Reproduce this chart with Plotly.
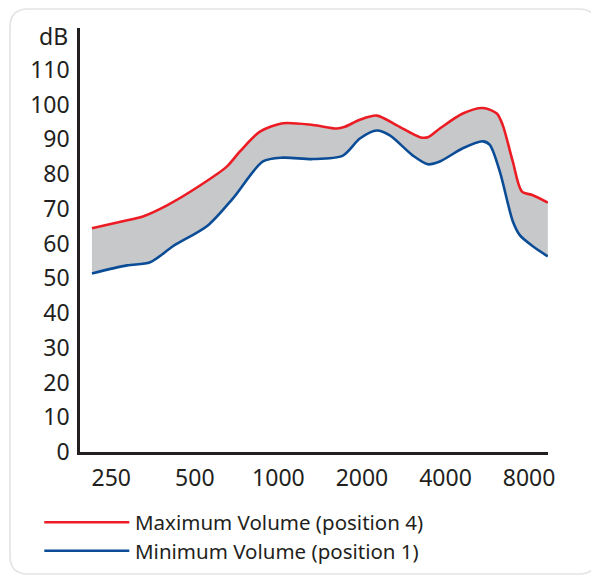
import math
import plotly.graph_objects as go

# ---- data ----
max_freq = [213, 275, 325, 397, 522, 653, 727, 858, 1038, 1332, 1625, 1736, 1966, 2264,
            2672, 3233, 3456, 3816, 4617, 5449, 6122, 6434, 6989, 7532, 8252, 9345]
max_db = [64.4, 66.4, 67.8, 71.0, 76.7, 82.2, 86.5, 92.2, 94.6, 94.1, 93.1, 93.6, 95.6, 96.8,
          94.0, 90.6, 90.6, 93.1, 97.4, 99.0, 97.4, 94.0, 83.6, 75.0, 73.9, 71.8]

min_freq = [213, 285, 345, 417, 557, 686, 880, 1038, 1332, 1708, 1966, 2264, 2521, 3051,
            3456, 3816, 4617, 5449, 5776, 6277, 6989, 7407, 8252, 9345]
min_db = [51.4, 53.7, 54.6, 59.2, 65.2, 73.0, 83.6, 84.7, 84.3, 85.3, 90.2, 92.5, 91.1, 85.3,
          82.8, 83.6, 87.4, 89.4, 88.4, 80.7, 66.4, 62.4, 59.2, 56.3]

x_ticks = [250, 500, 1000, 2000, 4000, 8000]
x_tick_labels = ["250", "500", "1000", "2000", "4000", "8000"]
y_ticks = [0, 10, 20, 30, 40, 50, 60, 70, 80, 90, 100, 110]
y_unit = "dB"

series_names = ["Maximum Volume (position 4)", "Minimum Volume (position 1)"]
series_colors = ["#ec1c24", "#0b4c97"]
band_color = "#c7c8ca"
ink = "#231f20"
FONT = "Noto Sans"

fig = go.Figure()
fig.add_trace(go.Scatter(x=max_freq, y=max_db, mode="lines", name=series_names[0],
                         line=dict(color=series_colors[0], width=2.6, shape="spline", smoothing=0.8),
                         showlegend=False, hoverinfo="skip"))
fig.add_trace(go.Scatter(x=min_freq, y=min_db, mode="lines", name=series_names[1],
                         line=dict(color=series_colors[1], width=2.6, shape="spline", smoothing=0.8),
                         fill="tonexty", fillcolor=band_color,
                         showlegend=False, hoverinfo="skip"))

# page body has an 8px margin, so the figure is laid out 8px in from the window edge
OFF = 8
W, H = 599 - OFF, 576 - OFF
ML, MR, MT, MB = 80 - OFF, 51, 28 - OFF, 124
pw, ph = W - ML - MR, H - MT - MB

def px(x):  # window pixel -> paper
    return (x - OFF - ML) / pw

def py(y):
    return (H - MB - (y - OFF)) / ph

# rounded outer frame
x0, x1 = px(10), px(597)
yt, yb = py(OFF + 1), py(574)
rx, ry = 18 / pw, 18 / ph
path = (f"M {x0+rx},{yt} L {x1-rx},{yt} Q {x1},{yt} {x1},{yt-ry} "
        f"L {x1},{yb+ry} Q {x1},{yb} {x1-rx},{yb} L {x0+rx},{yb} "
        f"Q {x0},{yb} {x0},{yb+ry} L {x0},{yt-ry} Q {x0},{yt} {x0+rx},{yt} Z")
shapes = [dict(type="path", path=path, xref="paper", yref="paper",
               line=dict(color="#e3e3e3", width=1.6), layer="below")]

annotations = [dict(text=y_unit, x=0, y=119.8, xref="paper", yref="y", xanchor="right",
                    yanchor="middle", xshift=-10, showarrow=False,
                    font=dict(family=FONT, size=23, color=ink))]

leg_y = [522.3, 550.7]
for name, col, ly in zip(series_names, series_colors, leg_y):
    shapes.append(dict(type="line", xref="paper", yref="paper", x0=px(44.3), x1=px(129.3),
                       y0=py(ly), y1=py(ly), line=dict(color=col, width=2.6)))
    annotations.append(dict(text=name, x=px(133), y=py(ly), xref="paper", yref="paper",
                            xanchor="left", yanchor="middle", showarrow=False,
                            font=dict(family=FONT, size=20.5, color=ink)))

fig.update_layout(
    width=W, height=H,
    margin=dict(l=ML, r=MR, t=MT, b=MB, pad=0),
    paper_bgcolor="white", plot_bgcolor="white",
    showlegend=False,
    shapes=shapes, annotations=annotations,
    font=dict(family=FONT, color=ink),
    xaxis=dict(type="log", range=[math.log10(192.9), math.log10(9360)],
               tickvals=x_ticks, ticktext=x_tick_labels,
               showgrid=False, zeroline=False, showline=True, linecolor=ink, linewidth=3,
               ticks="", ticklabelstandoff=3,
               tickfont=dict(family=FONT, size=23, color=ink)),
    yaxis=dict(range=[0, ph / 3.475], tickvals=y_ticks,
               showgrid=False, zeroline=False, showline=True, linecolor=ink, linewidth=2.5,
               ticks="", ticklabelstandoff=3,
               tickfont=dict(family=FONT, size=23, color=ink)),
)

fig.write_html("out.html")
